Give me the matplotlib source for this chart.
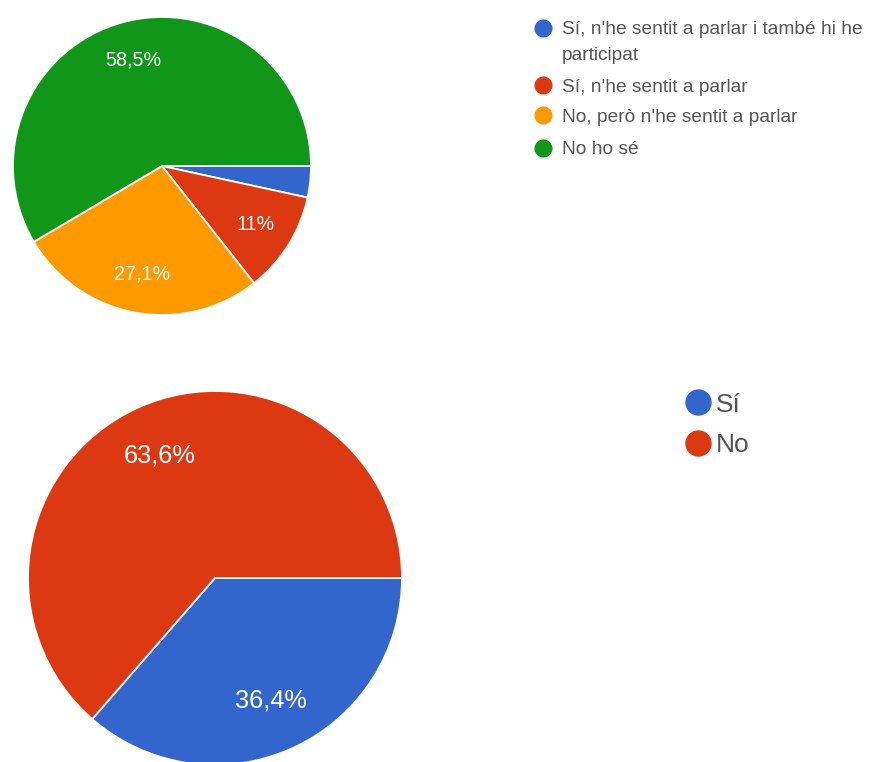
import matplotlib
matplotlib.use("Agg")
import matplotlib.pyplot as plt
import numpy as np

W, H = 883, 762

# survey answers, top question
q1_labels = ["Sí, n'he sentit a parlar i també hi he\nparticipat",
             "Sí, n'he sentit a parlar",
             "No, però n'he sentit a parlar",
             "No ho sé"]
q1_values = [3.4, 11.0, 27.1, 58.5]
q1_text = ["", "11%", "27,1%", "58,5%"]
q1_colors = ["#3366cc", "#dc3912", "#ff9900", "#109618"]

# second question
q2_labels = ["Sí", "No"]
q2_values = [36.4, 63.6]
q2_text = ["36,4%", "63,6%"]
q2_colors = ["#3366cc", "#dc3912"]

plt.rcParams["font.family"] = ["Liberation Sans", "DejaVu Sans"]


def px_axes(fig, cx, cy, r):
    """Square axes centred on pixel (cx, cy), top-left origin."""
    return fig.add_axes([(cx - r) / W, (H - cy - r) / H, 2 * r / W, 2 * r / H])


def draw_pie(ax, values, texts, colors, fontsize, pctdist):
    wedges, _ = ax.pie(values, colors=colors, startangle=0, counterclock=False,
                       wedgeprops=dict(edgecolor="white", linewidth=1.3))
    for w, t in zip(wedges, texts):
        if not t:
            continue
        ang = np.deg2rad((w.theta1 + w.theta2) / 2)
        ax.text(pctdist * np.cos(ang), pctdist * np.sin(ang), t,
                ha="center", va="center", color="white", fontsize=fontsize)
    ax.set_xlim(-1, 1)
    ax.set_ylim(-1, 1)
    ax.set_aspect("equal")
    ax.axis("off")


def fy(y):
    return (H - y) / H


fig = plt.figure(figsize=(W / 100, H / 100), dpi=100)

ax1 = px_axes(fig, 162, 166, 149)
draw_pie(ax1, q1_values, q1_text, q1_colors, 14.2, 0.74)

ax2 = px_axes(fig, 215, 578, 187)
draw_pie(ax2, q2_values, q2_text, q2_colors, 18.3, 0.72)

# top legend (wrapped entries get one text per line)
leg1_y = [28, 85, 115, 148]
for y, lab, col in zip(leg1_y, q1_labels, q1_colors):
    fig.lines.append(plt.Line2D([543 / W], [fy(y)], marker="o", markersize=12,
                                color=col, linestyle="none", transform=fig.transFigure))
    for k, line in enumerate(lab.split("\n")):
        fig.text(562 / W, fy(y + 26 * k), line, ha="left", va="center_baseline",
                 fontsize=13.8, color="#555555", transform=fig.transFigure)

# bottom legend
leg2_y = [402, 443]
for y, lab, col in zip(leg2_y, q2_labels, q2_colors):
    fig.lines.append(plt.Line2D([698 / W], [fy(y)], marker="o", markersize=18,
                                color=col, linestyle="none", transform=fig.transFigure))
    fig.text(716 / W, fy(y), lab, ha="left", va="center_baseline", fontsize=19,
             color="#555555", transform=fig.transFigure)

fig.savefig("out.png", dpi=100, facecolor="white")
